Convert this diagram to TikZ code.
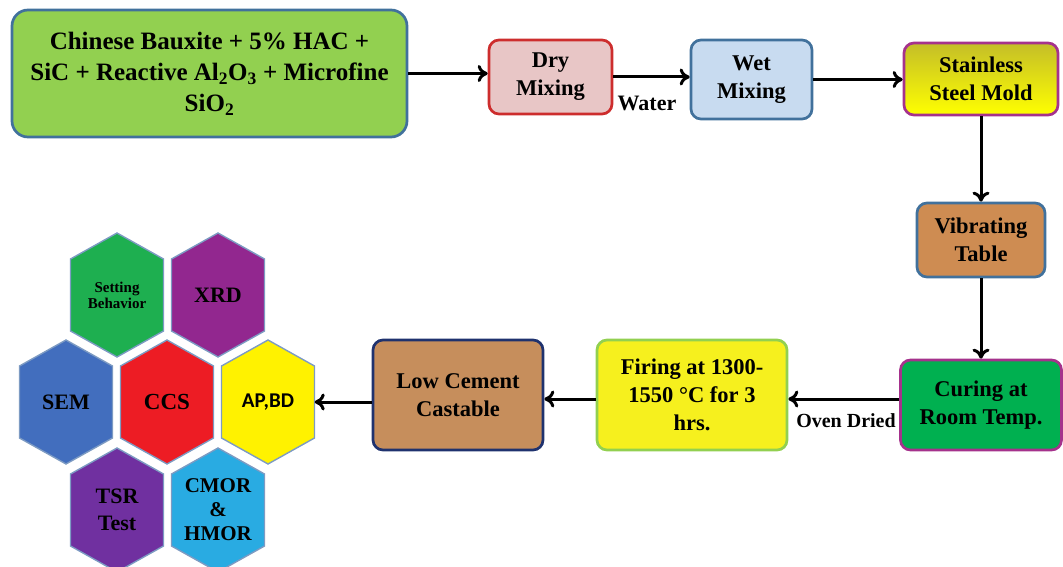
\documentclass[tikz,border=0pt]{standalone}
\usepackage{fontspec}
\setmainfont{Liberation Serif}
\newfontfamily\calibri{Carlito}
\usepackage{xcolor}
\usepackage{tikz}
\usetikzlibrary{arrows.meta}

\definecolor{srcgreen}{RGB}{146,208,80}
\definecolor{boxblue}{RGB}{65,113,156}
\definecolor{drypink}{RGB}{232,198,198}
\definecolor{dryred}{RGB}{205,45,45}
\definecolor{wetblue}{RGB}{200,219,240}
\definecolor{moldtop}{RGB}{196,190,40}
\definecolor{moldpurple}{RGB}{165,50,140}
\definecolor{vibbrown}{RGB}{206,140,82}
\definecolor{curegreen}{RGB}{0,176,80}
\definecolor{fireyellow}{RGB}{246,240,30}
\definecolor{corkbrown}{RGB}{198,142,92}
\definecolor{lownavy}{RGB}{31,50,110}
\definecolor{hexedge}{RGB}{125,155,195}
\definecolor{hexgreen}{RGB}{30,175,80}
\definecolor{hexplum}{RGB}{146,39,143}
\definecolor{hexblue}{RGB}{66,110,190}
\definecolor{hexred}{RGB}{237,28,36}
\definecolor{hexyellow}{RGB}{255,242,0}
\definecolor{hexviolet}{RGB}{112,48,160}
\definecolor{hexsky}{RGB}{41,171,226}

\begin{document}
\begin{tikzpicture}[x=1pt,y=-1pt,
  every node/.style={font=\bfseries},
  stepbox/.style={draw,line width=2.7pt,rounded corners=10pt,align=center,inner sep=0pt,
    font=\bfseries\fontsize{22.5}{28}\selectfont},
  flow/.style={-{To[length=10pt,width=17pt]},line width=3pt},
  tag/.style={font=\bfseries\fontsize{20}{22}\selectfont,inner sep=0pt},
  hexline/.style={draw=hexedge,line width=1.4pt},
  hexlabel/.style={align=center,inner sep=0pt,minimum width=93pt}]

\useasboundingbox (0,0) rectangle (1063,567);

% top row
\node (src) [stepbox,fill=srcgreen,draw=boxblue,rounded corners=16pt,minimum width=395pt,minimum height=127pt,
  font=\bfseries\fontsize{25}{31}\selectfont] at (209.5,73.5)
  {Chinese Bauxite + 5\% HAC +\\SiC + Reactive Al\textsubscript{2}O\textsubscript{3} + Microfine\\SiO\textsubscript{2}};
\node (dry) [stepbox,fill=drypink,draw=dryred,minimum width=123pt,minimum height=74pt] at (550.5,77) {Dry\\Mixing};
\node (wet) [stepbox,fill=wetblue,draw=boxblue,minimum width=121pt,minimum height=79pt] at (751.5,79.5) {Wet\\Mixing};
\node (mold) [stepbox,top color=moldtop,bottom color=yellow,draw=moldpurple,minimum width=154pt,minimum height=72pt] at (981,79) {Stainless\\Steel Mold};

% right column
\node (vib) [stepbox,fill=vibbrown,draw=boxblue,minimum width=128pt,minimum height=74pt] at (981,240) {Vibrating\\Table};
\node (cure) [stepbox,fill=curegreen,draw=moldpurple,minimum width=161pt,minimum height=90pt] at (981,405) {Curing at\\Room Temp.};

% bottom row
\node (fire) [stepbox,fill=fireyellow,draw=srcgreen,minimum width=190pt,minimum height=110pt] at (692,395) {Firing at 1300-\\1550 °C for 3\\hrs.};
\node (low) [stepbox,fill=corkbrown,draw=lownavy,minimum width=170pt,minimum height=110pt] at (458,395) {Low Cement\\Castable};

% tests
\foreach \cx/\cy/\col/\nm/\fnt/\txt in {
  117/295/hexgreen/setb/{\fontsize{15}{16}\selectfont}/{Setting\\Behavior},
  218/295/hexplum/xrd/{\fontsize{22}{25}\selectfont}/XRD,
  66/402/hexblue/sem/{\fontsize{22}{25}\selectfont}/SEM,
  167/402/hexred/ccs/{\fontsize{23}{25}\selectfont}/CCS,
  268/402/hexyellow/apbd/{\calibri\fontsize{21}{25}\selectfont}/{AP,BD},
  117/510/hexviolet/tsr/{\fontsize{22}{27}\selectfont}/{TSR\\Test},
  218/510/hexsky/cmor/{\fontsize{21}{24}\selectfont}/{CMOR\\\&\\HMOR}}{
  \filldraw[hexline,fill=\col] (\cx,\cy) ++(0,-62) -- ++(46.5,26) -- ++(0,72) -- ++(-46.5,26) -- ++(-46.5,-26) -- ++(0,-72) -- cycle;
  \node (\nm) [hexlabel,font=\bfseries\fnt] at (\cx,\cy) {\txt};
}

% arrows
\draw[flow] (src.east) -- (src.east -| dry.west);
\draw[flow] (dry.east) -- (dry.east -| wet.west);
\node (water) [tag,font=\bfseries\fontsize{22}{24}\selectfont] at (647,103) {Water};
\draw[flow] (wet.east) -- (wet.east -| mold.west);
\draw[flow] (mold.south) -- (vib.north);
\draw[flow] (vib.south) -- (cure.north);
\coordinate (dried) at ([yshift=6pt]cure.west);
\draw[flow] (dried) -- (dried -| fire.east);
\node (oven) [tag] at (846,421) {Oven Dried};
\draw[flow] (dried -| fire.west) -- (dried -| low.east);
\draw[flow] (apbd.east -| low.west) -- (apbd.east);
\end{tikzpicture}
\end{document}
